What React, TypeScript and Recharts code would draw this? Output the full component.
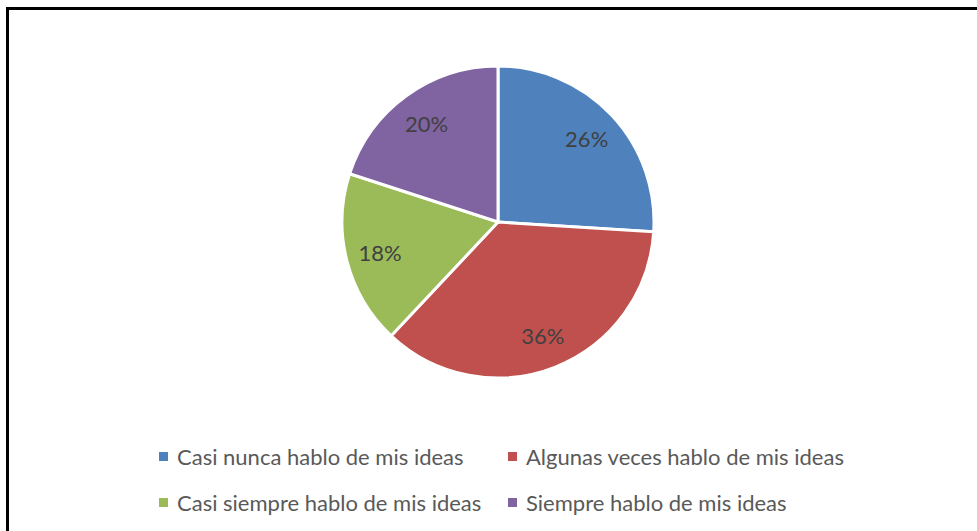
import { PieChart, Pie, Cell, Legend } from 'recharts'

const categories = [
  'Casi nunca hablo de mis ideas',
  'Algunas veces hablo de mis ideas',
  'Casi siempre hablo de mis ideas',
  'Siempre hablo de mis ideas',
]
const shares = [26, 36, 18, 20]
const colors = ['#4F81BD', '#C0504D', '#9BBB59', '#8064A2']

const data = categories.map((name, i) => ({ name, value: shares[i] }))

const RADIAN = Math.PI / 180

const renderLabel = (props: any) => {
  const { cx, cy, midAngle, outerRadius, percent } = props
  const r = outerRadius * 0.78
  const x = cx + r * Math.cos(-midAngle * RADIAN)
  const y = cy + r * Math.sin(-midAngle * RADIAN)
  return (
    <text
      x={x}
      y={y}
      fill="#404040"
      textAnchor="middle"
      dominantBaseline="central"
      style={{ fontFamily: 'Lato', fontSize: 22 }}
    >
      {`${Math.round(percent * 100)}%`}
    </text>
  )
}

const LegendContent = () => (
  <div style={{ position: 'relative', width: 977, height: 90, fontFamily: 'Lato', fontSize: 22, color: '#595959' }}>
    {categories.map((name, i) => (
      <div
        key={name}
        style={{
          position: 'absolute',
          left: i % 2 === 0 ? 159 : 508,
          top: i < 2 ? 0 : 46,
          display: 'flex',
          alignItems: 'center',
          whiteSpace: 'nowrap',
        }}
      >
        <span style={{ width: 9, height: 9, background: colors[i], display: 'inline-block', marginRight: 9 }} />
        {name}
      </div>
    ))}
  </div>
)

export default function App() {
  return (
    <div style={{ position: 'absolute', left: 0, top: 0, width: 977, height: 531, overflow: 'hidden', background: '#fff' }}>
      <div
        style={{
          position: 'absolute',
          left: 6,
          top: 7,
          width: 990,
          height: 560,
          border: '3px solid #000',
        }}
      />
      <div style={{ position: 'absolute', left: 0, top: 0 }}>
        <PieChart width={977} height={531}>
          <Pie
            data={data}
            dataKey="value"
            nameKey="name"
            cx={493}
            cy={217}
            outerRadius={156}
            startAngle={90}
            endAngle={-270}
            stroke="#fff"
            strokeWidth={3}
            label={renderLabel}
            labelLine={false}
            isAnimationActive={false}
          >
            {data.map((d, i) => (
              <Cell key={d.name} fill={colors[i]} />
            ))}
          </Pie>
          <Legend
            content={<LegendContent />}
            wrapperStyle={{ position: 'absolute', left: 0, top: 443, width: 977 }}
          />
        </PieChart>
      </div>
    </div>
  )
}
